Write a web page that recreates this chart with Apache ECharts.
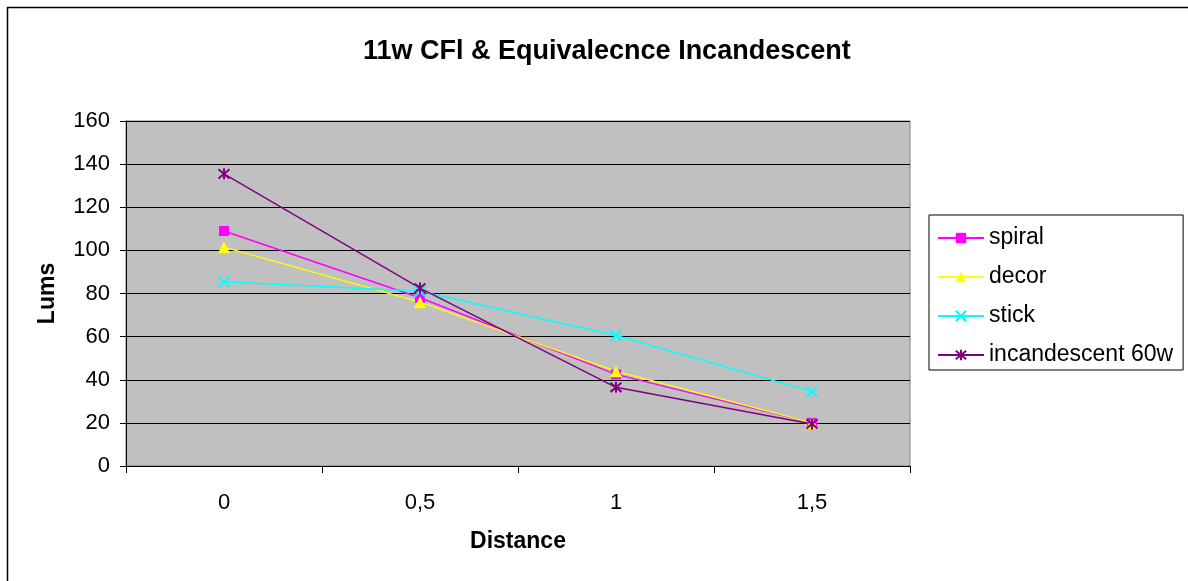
<!DOCTYPE html>
<html><head><meta charset="utf-8">
<script src="https://cdn.jsdelivr.net/npm/echarts@6/dist/echarts.min.js"></script>
<style>html,body{margin:0;padding:0;background:#fff}#c{width:1188px;height:581px}</style>
</head><body><div id="c"></div>
<script>
const categories = ['0', '0,5', '1', '1,5'];
const spiral = [109, 78, 42.5, 20];
const decor = [101.5, 76, 44, 20];
const stick = [85.5, 81, 60.5, 34.5];
const incandescent = [135.5, 82.5, 36.5, 19.5];
const yTicks = {min: 0, max: 160, interval: 20};

const chart = echarts.init(document.getElementById('c'));
const font = 'Liberation Sans, Arial, sans-serif';
const crossPath = 'path://M0,0L10,10M10,0L0,10';
const starPath = 'path://M0,0L10,10M10,0L0,10M5,-1L5,11';
function mk(name, data, color, symbol, size, stroke) {
  return {
    name, type: 'line', data, symbol, symbolSize: size,
    lineStyle: {color, width: 1.5},
    itemStyle: stroke ? {color: 'none', borderColor: color, borderWidth: 2} : {color, borderColor: color, borderWidth: 0},
    emphasis: {disabled: true}, animation: false
  };
}
chart.setOption({
  animation: false,
  title: {text: '11w CFl & Equivalecnce Incandescent', left: 358, top: 33,
    textStyle: {fontFamily: font, fontSize: 27, fontWeight: 'bold', color: '#000'}},
  grid: {left: 126, top: 121, width: 784, height: 345, show: true,
    backgroundColor: '#c0c0c0', borderColor: '#808080', borderWidth: 1},
  legend: {
    orient: 'vertical', left: 929, top: 215,
    padding: [11, 10, 3, 8], itemGap: 15, itemWidth: 46, itemHeight: 13,
    borderColor: '#000', borderWidth: 1,
    textStyle: {fontFamily: font, fontSize: 23, lineHeight: 24, color: '#000'},
    data: ['spiral', 'decor', 'stick', 'incandescent 60w']
  },
  xAxis: {
    type: 'category', data: categories, boundaryGap: true,
    name: 'Distance', nameLocation: 'middle', nameGap: 64,
    nameTextStyle: {fontFamily: font, fontSize: 23, fontWeight: 'bold', color: '#000'},
    axisLine: {lineStyle: {color: '#000', width: 1}},
    axisTick: {show: true, length: 7, lineStyle: {color: '#000'}, alignWithLabel: false},
    axisLabel: {fontFamily: font, fontSize: 22, color: '#000', margin: 26},
    splitLine: {show: false}
  },
  yAxis: {
    type: 'value', min: yTicks.min, max: yTicks.max, interval: yTicks.interval,
    name: 'Lums', nameLocation: 'middle', nameGap: 67, nameRotate: 90,
    nameTextStyle: {fontFamily: font, fontSize: 23, fontWeight: 'bold', color: '#000'},
    axisLine: {show: true, lineStyle: {color: '#000', width: 1}},
    axisTick: {show: true, length: 6, lineStyle: {color: '#000'}},
    axisLabel: {fontFamily: font, fontSize: 22, color: '#000', margin: 16},
    splitLine: {show: true, lineStyle: {color: '#000', width: 1}}
  },
  series: [
    mk('spiral', spiral, '#ff00ff', 'rect', 10, false),
    mk('decor', decor, '#ffff00', 'triangle', 12, false),
    mk('stick', stick, '#00ffff', crossPath, 11, true),
    mk('incandescent 60w', incandescent, '#800080', starPath, 11, true)
  ],
  graphic: [{type: 'rect', shape: {x: 7.5, y: 7.5, width: 1200, height: 600},
    style: {fill: 'none', stroke: '#000', lineWidth: 1.5}, silent: true}]
});
</script></body></html>
